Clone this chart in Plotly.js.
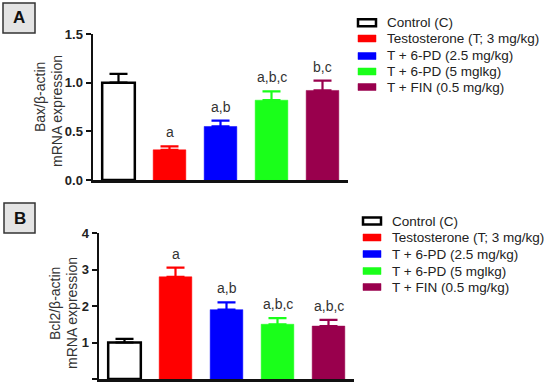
<!DOCTYPE html>
<html>
<head>
<meta charset="utf-8">
<script src="https://cdn.plot.ly/plotly-3.0.1.min.js"></script>
<style>html,body{margin:0;padding:0;background:#fff;}#chart{width:550px;height:386px;}</style>
</head>
<body>
<div id="chart"></div>
<script>
const categories = ["Control (C)", "Testosterone (T; 3 mg/kg)", "T + 6-PD (2.5 mg/kg)", "T + 6-PD (5 mglkg)", "T + FIN (0.5 mg/kg)"];
const baxMean = [1.00, 0.31, 0.55, 0.82, 0.92];
const baxErr = [0.09, 0.035, 0.06, 0.09, 0.10];
const baxLabels = ["", "a", "a,b", "a,b,c", "b,c"];
const bclMean = [1.00, 2.80, 1.90, 1.50, 1.45];
const bclErr = [0.10, 0.25, 0.20, 0.17, 0.17];
const bclLabels = ["", "a", "a,b", "a,b,c", "a,b,c"];
const barColors = ["#000000", "#ff0000", "#0000ff", "#1aff1a", "#99004d"];
const barFills = ["#ffffff", "#ff0000", "#0000ff", "#1aff1a", "#99004d"];
const panelLetters = ["A", "B"];
const yTitlesA = ["Bax/β-actin", "mRNA expression"];
const yTitlesB = ["Bcl2/β-actin", "mRNA expression"];

const W = 550, H = 386;
const px = v => v / W;
const py = v => 1 - v / H;
const FONT = "Arial, 'Liberation Sans', sans-serif";

const traces = [];
function addPanel(means, errs, xa, ya) {
  for (let i = 0; i < categories.length; i++) {
    const isCtrl = i === 0;
    traces.push({
      type: "bar",
      x: [categories[i]],
      y: [means[i]],
      xaxis: xa, yaxis: ya,
      width: 0.64,
      showlegend: false,
      hoverinfo: "skip",
      marker: {color: barFills[i], line: {color: barColors[i], width: isCtrl ? 2.5 : 0.5}},
      error_y: {type: "data", symmetric: false, array: [errs[i]], arrayminus: [0],
                color: barColors[i], thickness: 2.2, width: 9}
    });
  }
}
addPanel(baxMean, baxErr, "x", "y");
addPanel(bclMean, bclErr, "x2", "y2");

const annotations = [];
const shapes = [];
function addLabels(means, errs, labels, xr, yr) {
  for (let i = 0; i < categories.length; i++) {
    if (!labels[i]) continue;
    annotations.push({x: categories[i], y: means[i] + errs[i], xref: xr, yref: yr,
      text: labels[i], showarrow: false, yanchor: "bottom", yshift: 4,
      font: {family: FONT, size: 14, color: "#333"}});
  }
}
addLabels(baxMean, baxErr, baxLabels, "x", "y");
addLabels(bclMean, bclErr, bclLabels, "x2", "y2");

// panel letter boxes
const boxes = [[3, 3, 35, 33], [4, 203, 35, 233]];
boxes.forEach((b, k) => {
  shapes.push({type: "rect", xref: "paper", yref: "paper", x0: px(b[0]), x1: px(b[2]), y0: py(b[3]), y1: py(b[1]),
    fillcolor: "#e4e4e4", line: {color: "#333", width: 1.5}});
  annotations.push({xref: "paper", yref: "paper", x: px((b[0] + b[2]) / 2), y: py((b[1] + b[3]) / 2),
    text: "<b>" + panelLetters[k] + "</b>", showarrow: false, xanchor: "center", yanchor: "middle",
    font: {family: FONT, size: 17, color: "#111"}});
});

// y-axis titles
function addYTitle(lines, xs, yc) {
  lines.forEach((t, j) => {
    annotations.push({xref: "paper", yref: "paper", x: px(xs[j]), y: py(yc[j]), text: t, textangle: -90,
      showarrow: false, xanchor: "center", yanchor: "middle", font: {family: FONT, size: 14, color: "#333"}});
  });
}
addYTitle(yTitlesA, [40, 57], [97, 111]);
addYTitle(yTitlesB, [55, 72], [304, 313]);

// legends
function addLegend(symX, textX, rows) {
  for (let i = 0; i < categories.length; i++) {
    const yc = rows[i];
    const isCtrl = i === 0;
    shapes.push({type: "rect", xref: "paper", yref: "paper",
      x0: px(symX), x1: px(symX + 18), y0: py(yc + 3.5), y1: py(yc - 3.5),
      fillcolor: barFills[i], line: {color: barColors[i], width: isCtrl ? 2.5 : 0.5}});
    annotations.push({xref: "paper", yref: "paper", x: px(textX), y: py(yc), text: categories[i],
      showarrow: false, xanchor: "left", yanchor: "middle",
      font: {family: FONT, size: 13.5, color: "#222"}});
  }
}
addLegend(358, 385, [22.7, 38.5, 56, 71.5, 87]);
addLegend(363, 390, [221, 237.5, 254, 271, 287]);

function yax(range, dtick, dom, fmt) {
  return {domain: dom, range: range, dtick: dtick, tick0: 0, tickformat: fmt,
    showline: true, linecolor: "#111", linewidth: 2.5, ticks: "outside", ticklen: 5, tickwidth: 2,
    tickcolor: "#111", showgrid: false, zeroline: false, fixedrange: true,
    tickfont: {family: FONT, size: 13, color: "#222", weight: "bold"}};
}
function xax(dom, anchor) {
  return {domain: dom, anchor: anchor, type: "category", categoryorder: "array", categoryarray: categories,
    range: [-0.5, 4.5], showline: true, linecolor: "#111", linewidth: 2.5, ticks: "",
    showticklabels: false, showgrid: false, zeroline: false, fixedrange: true};
}

const layout = {
  width: W, height: H,
  margin: {l: 0, r: 0, t: 0, b: 0},
  paper_bgcolor: "#fff", plot_bgcolor: "rgba(0,0,0,0)",
  barmode: "overlay",
  showlegend: false,
  xaxis: xax([px(93), px(348)], "y"),
  yaxis: Object.assign(yax([0, 1.5], 0.5, [py(180), py(34)], ".1f"), {anchor: "x"}),
  xaxis2: xax([px(99), px(354)], "y2"),
  yaxis2: Object.assign(yax([0, 4], 1, [py(379), py(233)], "d"), {anchor: "x2"}),
  annotations: annotations,
  shapes: shapes
};

Plotly.newPlot("chart", traces, layout, {displayModeBar: false, staticPlot: true});
</script>
</body>
</html>
